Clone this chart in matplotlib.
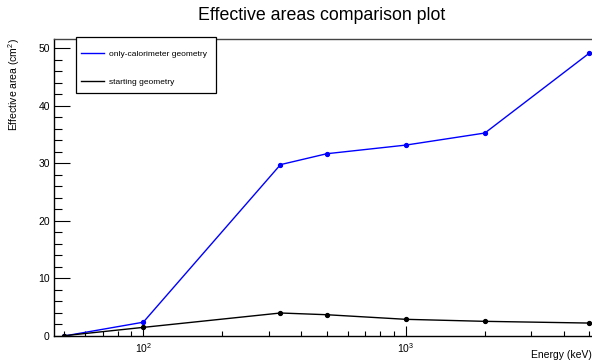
import matplotlib
matplotlib.use("Agg")
import matplotlib.pyplot as plt
from matplotlib.patches import Rectangle
from matplotlib.ticker import MultipleLocator, LogLocator, FixedLocator, NullFormatter, FixedFormatter

plt.rcParams['font.family'] = ['Liberation Sans', 'DejaVu Sans']
plt.rcParams['mathtext.fontset'] = 'custom'
plt.rcParams['mathtext.rm'] = 'Liberation Sans'
plt.rcParams['mathtext.it'] = 'Liberation Sans:italic'

energy = [50, 100, 333, 500, 1000, 2000, 5000]
area_calo = [0.0, 2.4, 29.8, 31.7, 33.2, 35.3, 49.2]
area_start = [0.05, 1.5, 4.0, 3.7, 2.9, 2.55, 2.25]
series_labels = ["only-calorimeter geometry", "starting geometry"]

W, H = 592, 364
fig = plt.figure(figsize=(W / 100, H / 100), dpi=100)
ax = fig.add_axes([54 / W, 1 - 336 / H, 1 - 54 / W + 0.002, (336 - 39) / H])

ax.plot(energy, area_calo, color=(0, 0, 1), lw=1.0, marker='o', ms=2.8, label=series_labels[0])
ax.plot(energy, area_start, color='black', lw=1.0, marker='o', ms=2.8, label=series_labels[1])

ax.set_xscale('log')
ax.set_xlim(45.7, 5170)
ax.set_ylim(0, 51.65)

ax.yaxis.set_major_locator(MultipleLocator(10))
ax.yaxis.set_minor_locator(MultipleLocator(2))
ax.xaxis.set_major_locator(FixedLocator([100, 1000]))
ax.xaxis.set_major_formatter(FixedFormatter([r'$10^{2}$', r'$10^{3}$']))
ax.xaxis.set_minor_locator(LogLocator(base=10, subs=range(2, 10)))
ax.xaxis.set_minor_formatter(NullFormatter())

ax.tick_params(axis='y', which='major', direction='in', length=11.5, width=0.8, labelsize=7.5, pad=3)
ax.tick_params(axis='y', which='minor', direction='in', length=5.8, width=0.8)
ax.tick_params(axis='x', which='major', direction='in', length=7.5, width=0.8, labelsize=7.5, pad=4)
ax.tick_params(axis='x', which='minor', direction='in', length=3.8, width=0.8)
ax.tick_params(top=False, right=False, which='both')

for s in ax.spines.values():
    s.set_linewidth(1.0)
ax.spines['top'].set_color('#444444')

fig.text(322 / W, 1 - 15 / H, "Effective areas comparison plot", ha='center', va='center', fontsize=12.8)
fig.text(14 / W, 1 - 38 / H, r"Effective area (cm$^{2}$)", rotation=90, ha='center', va='top', fontsize=7.5)
fig.text(1.0, 1 - 355 / H, "Energy (keV)", ha='right', va='center', fontsize=7.5)

# legend frame
frame = Rectangle((76 / W, 1 - 93 / H), 140 / W, 56 / H, transform=fig.transFigure,
                  facecolor='white', edgecolor='black', lw=0.9, zorder=4, clip_on=False)
ax.add_patch(frame)
leg = ax.legend(loc='upper left', bbox_to_anchor=(81 / W, 1 - 50 / H),
                bbox_transform=fig.transFigure, borderaxespad=0, borderpad=0,
                fontsize=6.0, frameon=False, handlelength=2.8,
                handletextpad=0.6, labelspacing=2.47)
leg.set_zorder(6)
for h in leg.get_lines():
    h.set_marker('')

fig.savefig("out.png", dpi=100)
